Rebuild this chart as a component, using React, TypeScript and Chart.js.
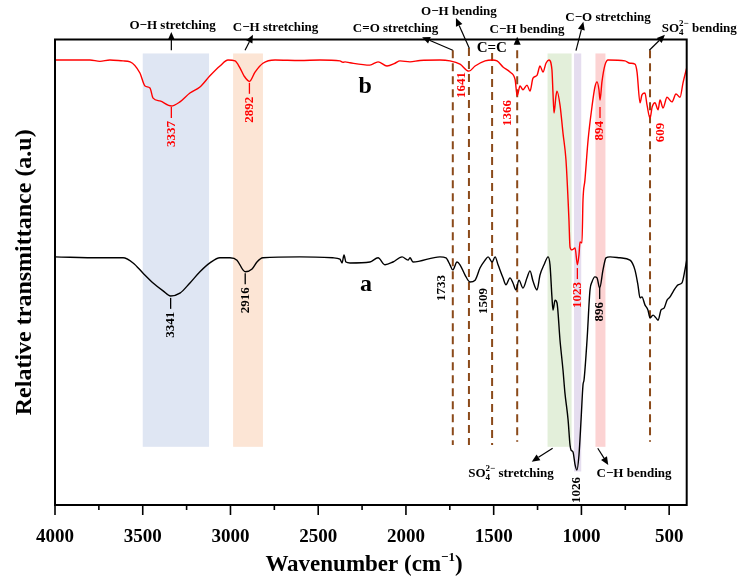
import React, { useEffect, useRef } from 'react';
import { Chart, registerables } from 'chart.js';

Chart.register(...registerables);

const FONT = '"Liberation Serif", "Times New Roman", serif';

// ---- Spectrum b (red) ----
const wavenumbersB = [4000, 3801, 3744, 3687, 3612, 3572, 3516, 3487, 3459, 3441, 3402, 3337, 3288, 3231, 3174, 3117, 3060, 3014, 2974, 2946, 2923, 2892, 2860, 2815, 2746, 2604, 2490, 2376, 2359, 2347, 2319, 2205, 2159, 2108, 2062, 2034, 1977, 1920, 1806, 1749, 1692, 1641, 1606, 1549, 1509, 1481, 1447, 1407, 1378, 1366, 1350, 1333, 1310, 1293, 1276, 1253, 1236, 1219, 1202, 1185, 1168, 1162, 1156, 1145, 1139, 1122, 1105, 1088, 1076, 1071, 1065, 1054, 1036, 1023, 1014, 1008, 997, 991, 980, 962, 940, 923, 911, 900, 894, 883, 866, 848, 752, 723, 695, 683, 666, 655, 638, 626, 609, 597, 581, 563, 552, 535, 512, 484, 461, 438, 421, 400];
const transmittanceB = [95.6, 95.6, 95.3, 95.6, 95.4, 95.2, 92.8, 90.0, 89.6, 87.4, 86.8, 85.7, 86.6, 88.5, 89.8, 92.2, 94.3, 95.6, 95.4, 93.9, 92.2, 91.0, 93.0, 94.9, 95.6, 95.5, 95.6, 95.4, 95.1, 95.2, 95.0, 94.5, 95.2, 94.3, 94.9, 95.4, 95.2, 95.5, 95.6, 95.4, 94.7, 93.2, 94.3, 95.4, 95.6, 95.4, 94.1, 93.0, 91.4, 87.9, 90.0, 89.2, 90.2, 88.9, 91.7, 92.3, 94.3, 93.0, 94.9, 95.6, 93.5, 88.5, 84.2, 87.9, 88.9, 85.9, 79.9, 74.1, 65.5, 61.2, 55.4, 54.8, 55.2, 51.6, 53.7, 56.5, 56.3, 65.5, 69.8, 78.4, 85.5, 89.8, 90.9, 89.2, 87.0, 90.9, 94.5, 95.6, 95.4, 94.9, 94.7, 93.0, 86.4, 88.1, 88.5, 85.9, 83.1, 85.5, 86.4, 84.9, 87.0, 85.3, 87.6, 86.6, 88.3, 87.6, 90.7, 93.9];

// ---- Spectrum a (black) ----
const wavenumbersA = [4000, 3744, 3612, 3555, 3498, 3441, 3384, 3341, 3288, 3231, 3174, 3117, 3060, 3003, 2963, 2929, 2916, 2877, 2849, 2815, 2604, 2416, 2376, 2364, 2353, 2342, 2319, 2205, 2159, 2119, 2074, 2022, 1988, 1977, 1960, 1806, 1772, 1749, 1733, 1709, 1692, 1663, 1635, 1606, 1578, 1549, 1532, 1509, 1492, 1475, 1447, 1430, 1407, 1390, 1373, 1356, 1333, 1310, 1293, 1276, 1253, 1236, 1213, 1190, 1179, 1168, 1162, 1150, 1139, 1122, 1105, 1094, 1076, 1065, 1059, 1048, 1036, 1026, 1014, 1002, 991, 985, 968, 951, 940, 923, 911, 896, 877, 860, 837, 780, 723, 695, 678, 666, 655, 638, 621, 609, 592, 575, 563, 546, 529, 512, 495, 478, 449, 427, 410, 400];
const transmittanceA = [53.3, 53.1, 53.1, 52.0, 49.8, 47.7, 46.0, 44.9, 45.5, 47.7, 50.1, 52.0, 53.1, 53.1, 52.6, 50.5, 50.1, 50.7, 52.2, 53.1, 53.3, 53.1, 52.8, 52.0, 53.7, 52.2, 52.0, 52.2, 53.1, 51.6, 52.2, 53.3, 52.6, 53.1, 52.2, 53.3, 53.1, 51.6, 50.5, 52.2, 51.6, 49.4, 47.9, 48.3, 50.9, 52.6, 53.3, 52.2, 53.3, 51.6, 48.8, 47.3, 48.8, 47.7, 46.2, 48.3, 46.6, 48.8, 50.3, 48.1, 46.2, 49.4, 51.6, 53.3, 51.6, 44.7, 41.9, 44.0, 43.4, 35.4, 29.0, 24.1, 18.3, 12.9, 11.8, 11.4, 8.6, 7.5, 10.7, 18.3, 25.8, 26.9, 35.4, 46.2, 47.9, 49.0, 48.8, 46.6, 50.5, 53.1, 53.3, 53.1, 52.6, 50.5, 47.3, 44.5, 44.7, 43.0, 41.9, 40.2, 40.8, 40.2, 39.7, 41.9, 42.3, 44.0, 44.7, 45.8, 47.3, 47.7, 50.5, 52.6];

// ---- Shaded bands (wavenumber ranges) ----
const bandStarts = [3500, 2985, 1193, 1042, 920];
const bandEnds = [3122, 2815, 1056, 1001, 863];

// ---- Dashed marker lines (wavenumbers) ----
const markerLines = [1733, 1641, 1509, 1366, 609];

// ---- Peak labels ----
const peakLabelsB = ['3337', '2892', '1641', '1366', '1023', '894', '609'];
const peakLabelsA = ['3341', '2916', '1733', '1509', '1026', '896'];

// ---- X tick settings ----
const xMin = 400;
const xMax = 4000;
const xStep = 250;
const xLabelStep = 500;

// ---------- layout / style (not data) ----------
const bandColors = ['#dfe6f3', '#fce5d5', '#e3efda', '#e5ddef', '#fcd3d3'];
const bandTop = 97.0;
const bandBottoms = [12.5, 12.5, 12.5, 7.2, 12.5];
const markerTops = [97.7, 98.2, 97.1, 97.7, 97.7];
const markerBottoms = [12.9, 12.9, 12.9, 13.6, 13.6];

// label anchors: [wn position, top value, has dash]
const peakPosB: [number, number, boolean][] = [
  [3337, 85.5, true], [2892, 90.7, true], [1680, 93.0, false], [1420, 87.0, false],
  [1023, 50.9, true], [894, 85.5, true], [546, 82.1, false],
];
const peakPosA: [number, number, boolean][] = [
  [3341, 44.5, true], [2916, 49.8, true], [1796, 49.4, false], [1559, 46.6, false],
  [1026, 6.0, false], [896, 46.6, true],
];

type Part = { t?: string; sup?: string; sub?: string };
type Note = { parts: Part[]; wn: number; v: number; align: 'left' | 'center'; size: number };

const notes: Note[] = [
  { parts: [{ t: 'O\u2212H stretching' }], wn: 3330, v: 102.2, align: 'center', size: 13 },
  { parts: [{ t: 'C\u2212H stretching' }], wn: 2743, v: 101.9, align: 'center', size: 13 },
  { parts: [{ t: 'C=O stretching' }], wn: 2059, v: 101.7, align: 'center', size: 13 },
  { parts: [{ t: 'O\u2212H bending' }], wn: 1698, v: 105.3, align: 'center', size: 13 },
  { parts: [{ t: 'C=C' }], wn: 1511, v: 97.25, align: 'center', size: 15 },
  { parts: [{ t: 'C\u2212H bending' }], wn: 1310, v: 101.5, align: 'center', size: 13 },
  { parts: [{ t: 'C\u2212O stretching' }], wn: 848, v: 104.0, align: 'center', size: 13 },
  { parts: [{ t: 'SO' }, { sup: '2\u2212', sub: '4' }, { t: ' bending' }], wn: 542, v: 101.7, align: 'left', size: 13 },
  { parts: [{ t: 'SO' }, { sup: '2\u2212', sub: '4' }, { t: ' stretching' }], wn: 1645, v: 6.1, align: 'left', size: 13 },
  { parts: [{ t: 'C\u2212H bending' }], wn: 700, v: 6.0, align: 'center', size: 13 },
  { parts: [{ t: 'b' }], wn: 2233, v: 88.5, align: 'center', size: 24 },
  { parts: [{ t: 'a' }], wn: 2228, v: 46.0, align: 'center', size: 24 },
];

const arrows: [number, number, number, number][] = [
  [3337, 97.7, 3337, 101.6],
  [2917, 97.7, 2872, 101.0],
  [1733, 97.7, 1908, 100.5],
  [1639, 98.1, 1715, 104.6],
  [1366, 98.9, 1366, 100.6],
  [1031, 97.6, 989, 103.8],
  [613, 97.7, 524, 101.0],
  [1164, 12.2, 1283, 9.3],
  [907, 12.2, 847, 8.6],
];

function drawRich(ctx: CanvasRenderingContext2D, parts: Part[], x: number, y: number, size: number, align: 'left' | 'center', scale = 0.68) {
  const big = `bold ${size}px ${FONT}`;
  const small = `bold ${Math.round(size * scale)}px ${FONT}`;
  const widths = parts.map((p) => {
    if (p.t !== undefined) { ctx.font = big; return ctx.measureText(p.t).width; }
    ctx.font = small;
    return Math.max(ctx.measureText(p.sup || '').width, ctx.measureText(p.sub || '').width);
  });
  const total = widths.reduce((a, b) => a + b, 0);
  let cx = align === 'center' ? x - total / 2 : x;
  ctx.textAlign = 'left';
  ctx.textBaseline = 'alphabetic';
  parts.forEach((p, i) => {
    if (p.t !== undefined) { ctx.font = big; ctx.fillText(p.t, cx, y); }
    else {
      ctx.font = small;
      if (p.sup) ctx.fillText(p.sup, cx, y - size * 0.45);
      if (p.sub) ctx.fillText(p.sub, cx, y + size * 0.25);
    }
    cx += widths[i];
  });
}

function drawArrow(ctx: CanvasRenderingContext2D, x1: number, y1: number, x2: number, y2: number) {
  const ang = Math.atan2(y2 - y1, x2 - x1);
  const len = 8, hw = 3.5;
  const bx = x2 - len * Math.cos(ang), by = y2 - len * Math.sin(ang);
  ctx.beginPath();
  ctx.moveTo(x1, y1);
  ctx.lineTo(bx, by);
  ctx.stroke();
  ctx.beginPath();
  ctx.moveTo(x2, y2);
  ctx.lineTo(bx + hw * Math.sin(ang), by - hw * Math.cos(ang));
  ctx.lineTo(bx - hw * Math.sin(ang), by + hw * Math.cos(ang));
  ctx.closePath();
  ctx.fill();
}

const decorPlugin = {
  id: 'decor',
  beforeDatasetsDraw(chart: any) {
    const { ctx } = chart;
    const xs = chart.scales.x, ys = chart.scales.y;
    ctx.save();
    bandStarts.forEach((s, i) => {
      const x1 = xs.getPixelForValue(s), x2 = xs.getPixelForValue(bandEnds[i]);
      const y1 = ys.getPixelForValue(bandTop), y2 = ys.getPixelForValue(bandBottoms[i]);
      ctx.fillStyle = bandColors[i];
      ctx.fillRect(x1, y1, x2 - x1, y2 - y1);
    });
    ctx.strokeStyle = '#8b4a1a';
    ctx.lineWidth = 2;
    ctx.setLineDash([8, 5]);
    markerLines.forEach((w, i) => {
      const x = xs.getPixelForValue(w);
      ctx.beginPath();
      ctx.moveTo(x, ys.getPixelForValue(markerTops[i]));
      ctx.lineTo(x, ys.getPixelForValue(markerBottoms[i]));
      ctx.stroke();
    });
    ctx.restore();
  },
  afterDraw(chart: any) {
    const { ctx, chartArea } = chart;
    const xs = chart.scales.x, ys = chart.scales.y;
    ctx.save();
    // frame
    ctx.strokeStyle = '#000';
    ctx.lineWidth = 2;
    ctx.setLineDash([]);
    ctx.strokeRect(chartArea.left, chartArea.top, chartArea.right - chartArea.left, chartArea.bottom - chartArea.top);
    // ticks
    ctx.lineWidth = 1.6;
    xs.ticks.forEach((t: any) => {
      const x = xs.getPixelForValue(t.value);
      const L = t.value % xLabelStep === 0 ? 10 : 5;
      ctx.beginPath();
      ctx.moveTo(x, chartArea.bottom);
      ctx.lineTo(x, chartArea.bottom + L);
      ctx.stroke();
    });
    // arrows
    ctx.fillStyle = '#000';
    ctx.lineWidth = 1.2;
    arrows.forEach(([w1, v1, w2, v2]) => {
      drawArrow(ctx, xs.getPixelForValue(w1), ys.getPixelForValue(v1), xs.getPixelForValue(w2), ys.getPixelForValue(v2));
    });
    // notes
    ctx.fillStyle = '#000';
    notes.forEach((n) => {
      drawRich(ctx, n.parts, xs.getPixelForValue(n.wn), ys.getPixelForValue(n.v), n.size, n.align);
    });
    // peak labels
    const drawPeaks = (labels: string[], pos: [number, number, boolean][], color: string) => {
      labels.forEach((txt, i) => {
        const [w, v, dash] = pos[i];
        const x = xs.getPixelForValue(w);
        let y = ys.getPixelForValue(v);
        ctx.strokeStyle = color;
        ctx.fillStyle = color;
        if (dash) {
          ctx.lineWidth = 1.3;
          ctx.beginPath();
          ctx.moveTo(x, y);
          ctx.lineTo(x, y + 11);
          ctx.stroke();
          y += 14;
        }
        ctx.save();
        ctx.translate(x, y);
        ctx.rotate(-Math.PI / 2);
        ctx.font = `bold 13px ${FONT}`;
        ctx.textAlign = 'right';
        ctx.textBaseline = 'middle';
        ctx.fillText(txt, 0, 0);
        ctx.restore();
      });
    };
    drawPeaks(peakLabelsB, peakPosB, '#ff0000');
    drawPeaks(peakLabelsA, peakPosA, '#000000');
    // axis titles
    ctx.fillStyle = '#000';
    drawRich(ctx, [{ t: 'Wavenumber (cm' }, { sup: '\u22121' }, { t: ')' }], 364, 571, 23, 'center', 0.55);
    ctx.save();
    ctx.translate(31, (chartArea.top + chartArea.bottom) / 2);
    ctx.rotate(-Math.PI / 2);
    ctx.font = `bold 24px ${FONT}`;
    ctx.textAlign = 'center';
    ctx.textBaseline = 'alphabetic';
    ctx.fillText('Relative transmittance (a.u)', 0, 0);
    ctx.restore();
    ctx.restore();
  },
};

export default function App() {
  const ref = useRef<HTMLCanvasElement | null>(null);
  useEffect(() => {
    document.body.style.margin = '0';
    const canvas = ref.current;
    if (!canvas) return;
    const chart = new Chart(canvas, {
      type: 'line',
      data: {
        datasets: [
          {
            label: 'b',
            data: wavenumbersB.map((w, i) => ({ x: w, y: transmittanceB[i] })),
            borderColor: '#ff0000',
            borderWidth: 1.4,
            pointRadius: 0,
            cubicInterpolationMode: 'monotone',
            fill: false,
          },
          {
            label: 'a',
            data: wavenumbersA.map((w, i) => ({ x: w, y: transmittanceA[i] })),
            borderColor: '#000000',
            borderWidth: 1.4,
            pointRadius: 0,
            cubicInterpolationMode: 'monotone',
            fill: false,
          },
        ],
      },
      options: {
        animation: false,
        responsive: false,
        layout: { padding: { left: 55, right: 54.3, top: 39.5, bottom: 0 } },
        plugins: { legend: { display: false }, tooltip: { enabled: false } },
        scales: {
          x: {
            type: 'linear',
            reverse: true,
            min: xMin,
            max: xMax,
            grid: { display: false },
            border: { display: false },
            ticks: {
              stepSize: xStep,
              includeBounds: false,
              autoSkip: false,
              maxRotation: 0,
              padding: 13,
              color: '#000',
              font: { family: FONT, size: 19, weight: 'bold' },
              callback: (v: any) => (Number(v) % xLabelStep === 0 ? String(v) : ''),
            },
            afterFit: (s: any) => { s.height = 72; },
          },
          y: { display: false, min: 0, max: 100 },
        },
      } as any,
      plugins: [decorPlugin],
    });
    return () => chart.destroy();
  }, []);
  return (
    <div style={{ width: 741, height: 577, background: '#fff' }}>
      <canvas ref={ref} width={741} height={577} style={{ width: 741, height: 577, display: 'block' }} />
    </div>
  );
}
